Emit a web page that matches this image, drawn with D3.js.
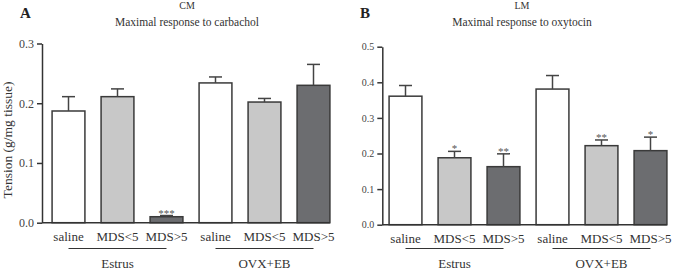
<!DOCTYPE html>
<html>
<head>
<meta charset="utf-8">
<script src="https://cdn.jsdelivr.net/npm/d3@7"></script>
<style>
  body { margin: 0; background: #fff; }
  text { font-family: "Liberation Serif", "Times New Roman", serif; fill: #333; }
</style>
</head>
<body>
<script>
// categories shared by both panels
var groups = ["saline", "MDS<5", "MDS>5", "saline ", "MDS<5 ", "MDS>5 "];
var groupNames = ["Estrus", "OVX+EB"];
var fills = ["#ffffff", "#c8c8c8", "#6c6d70", "#ffffff", "#c8c8c8", "#6c6d70"];

// panel A: CM, carbachol
var cmMean = [0.187, 0.211, 0.010, 0.234, 0.202, 0.230];
var cmErr  = [0.024, 0.013, 0.002, 0.010, 0.006, 0.035];
var cmStars = ["", "", "***", "", "", ""];
var cmTicks = [0.0, 0.1, 0.2, 0.3];

// panel B: LM, oxytocin
var lmMean = [0.361, 0.188, 0.163, 0.381, 0.222, 0.208];
var lmErr  = [0.030, 0.018, 0.036, 0.038, 0.016, 0.038];
var lmStars = ["", "*", "**", "", "**", "*"];
var lmTicks = [0.0, 0.1, 0.2, 0.3, 0.4, 0.5];

var svg = d3.select("body").append("svg")
  .attr("width", 673)
  .attr("height", 271);

function drawPanel(p) {
  var g = svg.append("g");

  var x = d3.scaleBand()
    .domain(groups)
    .range(p.xRange)
    .paddingInner(0.33)
    .paddingOuter(0.165);

  var y = d3.scaleLinear()
    .domain([0, d3.max(p.ticks)])
    .range(p.yRange);

  // y axis
  var yAxis = d3.axisLeft(y)
    .tickValues(p.ticks)
    .tickFormat(d3.format(".1f"))
    .tickSize(5)
    .tickSizeOuter(0);
  var gy = g.append("g")
    .attr("transform", "translate(" + p.axisX + ",0)")
    .call(yAxis);
  gy.select(".domain").attr("stroke", "#333").attr("stroke-width", 1.5);
  gy.selectAll(".tick line").attr("stroke", "#333").attr("stroke-width", 1.5);
  gy.selectAll(".tick text")
    .attr("x", -8)
    .style("font-family", "Liberation Serif")
    .style("font-size", p.tickFont + "px")
    .style("fill", "#444");

  // bars
  g.selectAll("rect.bar")
    .data(p.mean)
    .enter()
    .append("rect")
    .attr("class", "bar")
    .attr("x", (d, i) => x(groups[i]))
    .attr("y", d => y(d))
    .attr("width", x.bandwidth())
    .attr("height", d => y(0) - y(d))
    .attr("fill", (d, i) => fills[i])
    .attr("stroke", "#3a3a3a")
    .attr("stroke-width", 1.5);

  // error bars (upper only)
  var err = g.selectAll("g.err")
    .data(p.mean)
    .enter()
    .append("g")
    .attr("class", "err")
    .attr("stroke", "#444")
    .attr("stroke-width", 1.5);
  err.append("line")
    .attr("x1", (d, i) => x(groups[i]) + x.bandwidth() / 2)
    .attr("x2", (d, i) => x(groups[i]) + x.bandwidth() / 2)
    .attr("y1", d => y(d))
    .attr("y2", (d, i) => y(d + p.err[i]));
  err.append("line")
    .attr("x1", (d, i) => x(groups[i]) + x.bandwidth() / 2 - 6.5)
    .attr("x2", (d, i) => x(groups[i]) + x.bandwidth() / 2 + 6.5)
    .attr("y1", (d, i) => y(d + p.err[i]))
    .attr("y2", (d, i) => y(d + p.err[i]));

  // significance stars
  g.selectAll("text.star")
    .data(p.stars)
    .enter()
    .append("text")
    .attr("class", "star")
    .attr("x", (d, i) => x(groups[i]) + x.bandwidth() / 2)
    .attr("y", (d, i) => y(p.mean[i] + p.err[i]) + 1)
    .attr("text-anchor", "middle")
    .style("font-size", "11px")
    .style("fill", "#555")
    .text(d => d);

  // x axis line
  g.append("line")
    .attr("x1", p.axisX)
    .attr("x2", x(groups[5]) + x.bandwidth())
    .attr("y1", y(0))
    .attr("y2", y(0))
    .attr("stroke", "#333")
    .attr("stroke-width", 1.5);

  // category labels
  g.selectAll("text.cat")
    .data(groups)
    .enter()
    .append("text")
    .attr("class", "cat")
    .attr("x", d => x(d) + x.bandwidth() / 2)
    .attr("y", y(0) + 18)
    .attr("text-anchor", "middle")
    .style("font-size", "13px")
    .text(d => d.trim());

  // group underlines and names
  groupNames.forEach(function(name, k) {
    var a = x(groups[k * 3]) + x.bandwidth() / 2;
    var b = x(groups[k * 3 + 2]) + x.bandwidth() / 2;
    g.append("line")
      .attr("x1", a).attr("x2", b)
      .attr("y1", 248.5).attr("y2", 248.5)
      .attr("stroke", "#333")
      .attr("stroke-width", 1);
    g.append("text")
      .attr("x", (a + b) / 2)
      .attr("y", 268)
      .attr("text-anchor", "middle")
      .style("font-size", "13px")
      .text(name);
  });

  // titles
  g.append("text")
    .attr("x", p.titleX)
    .attr("y", 8.5)
    .attr("text-anchor", "middle")
    .style("font-size", "10px")
    .text(p.title);
  g.append("text")
    .attr("x", p.titleX)
    .attr("y", 26)
    .attr("text-anchor", "middle")
    .style("font-size", "11.5px")
    .text(p.subtitle);
  g.append("text")
    .attr("x", p.letterX)
    .attr("y", 18)
    .style("font-size", "15px")
    .style("font-weight", "bold")
    .style("fill", "#222")
    .text(p.letter);
}

drawPanel({
  mean: cmMean, err: cmErr, stars: cmStars, ticks: cmTicks,
  xRange: [44, 338], yRange: [222.7, 43.5], axisX: 42,
  tickFont: 12, title: "CM", subtitle: "Maximal response to carbachol",
  titleX: 187, letter: "A", letterX: 20
});

drawPanel({
  mean: lmMean, err: lmErr, stars: lmStars, ticks: lmTicks,
  xRange: [381, 675], yRange: [224.7, 46.7], axisX: 382.3,
  tickFont: 10, title: "LM", subtitle: "Maximal response to oxytocin",
  titleX: 522, letter: "B", letterX: 360
});

// y axis title
svg.append("text")
  .attr("transform", "translate(12,140) rotate(-90)")
  .attr("text-anchor", "middle")
  .style("font-size", "13.5px")
  .text("Tension (g/mg tissue)");
</script>
</body>
</html>
